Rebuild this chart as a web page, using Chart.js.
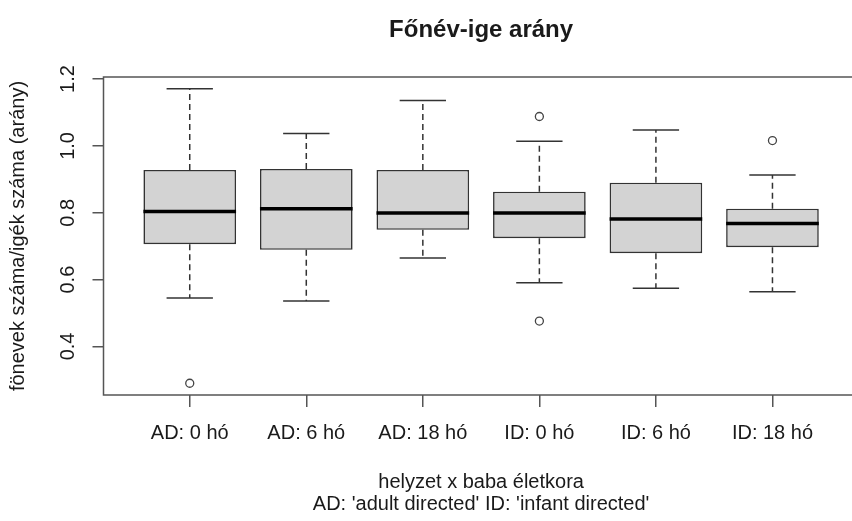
<!DOCTYPE html>
<html>
<head>
<meta charset="utf-8">
<script src="https://cdn.jsdelivr.net/npm/chart.js@4"></script>
<style>
  html, body { margin: 0; padding: 0; background: #ffffff; overflow: hidden; }
  #wrap { width: 852px; height: 521px; overflow: hidden; position: relative; }
  #c { display: block; }
</style>
</head>
<body>
<div id="wrap"><canvas id="c" width="864" height="521"></canvas></div>
<script>
// ---- data ----
const categories  = ['AD: 0 hó', 'AD: 6 hó', 'AD: 18 hó', 'ID: 0 hó', 'ID: 6 hó', 'ID: 18 hó'];
const whiskerLow  = [0.545, 0.536, 0.665, 0.591, 0.574, 0.564];
const q1          = [0.706, 0.689, 0.749, 0.724, 0.679, 0.697];
const median      = [0.804, 0.812, 0.799, 0.799, 0.781, 0.768];
const q3          = [0.928, 0.931, 0.928, 0.863, 0.890, 0.812];
const whiskerHigh = [1.171, 1.037, 1.136, 1.014, 1.048, 0.913];
const outlierGroup = [1, 4, 4, 6];
const outlierValue = [0.290, 1.088, 0.476, 1.016];
const yTicks = [0.4, 0.6, 0.8, 1.0, 1.2];
const Y_MIN = 0.2548, Y_MAX = 1.2062;
const X_MIN = 0.26, X_MAX = 6.74;

const FONT = "'Liberation Sans', Arial, Helvetica, sans-serif";
const TXT = '#1a1a1a';

const boxData = categories.map((c, i) => ({ x: i + 1, y: [q1[i], q3[i]] }));
const outData = outlierGroup.map((g, i) => ({ x: g, y: outlierValue[i] }));

const boxExtras = {
  id: 'boxExtras',
  afterDatasetsDraw(chart) {
    const { ctx, scales: { x, y }, chartArea } = chart;
    const meta = chart.getDatasetMeta(0);
    const seg = (x1, y1, x2, y2) => { ctx.beginPath(); ctx.moveTo(x1, y1); ctx.lineTo(x2, y2); ctx.stroke(); };
    ctx.save();
    meta.data.forEach((bar, i) => {
      const cx = x.getPixelForValue(i + 1);
      const half = bar.width / 2;
      const cap = half / 2;
      const yHi = y.getPixelForValue(whiskerHigh[i]);
      const yLo = y.getPixelForValue(whiskerLow[i]);
      const yQ3 = y.getPixelForValue(q3[i]);
      const yQ1 = y.getPixelForValue(q1[i]);
      const yMed = y.getPixelForValue(median[i]);
      ctx.strokeStyle = '#333';
      ctx.lineWidth = 1.5;
      ctx.setLineDash([6, 4]);
      seg(cx, yQ3, cx, yHi);
      seg(cx, yQ1, cx, yLo);
      ctx.setLineDash([]);
      seg(cx - cap, yHi, cx + cap, yHi);
      seg(cx - cap, yLo, cx + cap, yLo);
      ctx.strokeStyle = '#000';
      ctx.lineWidth = 3.5;
      seg(cx - half, yMed, cx + half, yMed);
    });
    ctx.strokeStyle = '#555';
    ctx.lineWidth = 1.5;
    ctx.strokeRect(chartArea.left, chartArea.top, chartArea.right - chartArea.left, chartArea.bottom - chartArea.top);
    ctx.restore();
  }
};

new Chart(document.getElementById('c'), {
  type: 'bar',
  data: {
    datasets: [
      {
        type: 'bar',
        data: boxData,
        backgroundColor: '#d3d3d3',
        borderColor: '#333',
        borderWidth: 1.6,
        borderSkipped: false,
        barPercentage: 0.795,
        categoryPercentage: 1.0
      },
      {
        type: 'scatter',
        data: outData,
        pointRadius: 4,
        pointBorderWidth: 1.3,
        pointBorderColor: '#444',
        pointBackgroundColor: 'rgba(0,0,0,0)',
        showLine: false
      }
    ]
  },
  options: {
    responsive: false,
    animation: false,
    events: [],
    layout: { padding: { left: 0, top: 0, right: 0.5, bottom: 0 } },
    plugins: {
      legend: { display: false },
      tooltip: { enabled: false },
      title: {
        display: true,
        text: 'Főnév-ige arány',
        fullSize: false,
        color: TXT,
        font: { family: FONT, size: 24, weight: 'bold', lineHeight: 1.2 },
        padding: { top: 15.6, bottom: 32.6 }
      }
    },
    scales: {
      x: {
        type: 'linear',
        min: X_MIN,
        max: X_MAX,
        offset: false,
        afterBuildTicks: (s) => { s.ticks = categories.map((c, i) => ({ value: i + 1 })); },
        afterFit: (s) => { s.height = 126; },
        ticks: {
          autoSkip: false,
          maxRotation: 0,
          minRotation: 0,
          padding: 14,
          color: TXT,
          font: { family: FONT, size: 20, lineHeight: 1.2 },
          callback: (v) => categories[Math.round(v) - 1]
        },
        grid: { offset: false, drawOnChartArea: false, drawTicks: true, tickLength: 12, color: '#555', lineWidth: 1.5 },
        border: { display: false },
        title: {
          display: true,
          text: ['helyzet x baba életkora', "AD: 'adult directed' ID: 'infant directed'"],
          color: TXT,
          font: { family: FONT, size: 20, lineHeight: 1.1 },
          padding: { top: 0, bottom: 6 }
        }
      },
      y: {
        type: 'linear',
        min: Y_MIN,
        max: Y_MAX,
        afterBuildTicks: (s) => { s.ticks = yTicks.map(v => ({ value: v })); },
        afterFit: (s) => { s.width = 103.5; },
        ticks: {
          autoSkip: false,
          minRotation: 90,
          maxRotation: 90,
          crossAlign: 'center',
          padding: 10.5,
          color: TXT,
          font: { family: FONT, size: 20, lineHeight: 1.2 },
          callback: (v) => Number(v).toFixed(1)
        },
        grid: { drawOnChartArea: false, drawTicks: true, tickLength: 11, color: '#555', lineWidth: 1.5 },
        border: { display: false },
        title: {
          display: true,
          text: 'fönevek száma/igék száma (arány)',
          color: TXT,
          font: { family: FONT, size: 20, lineHeight: 1.2 },
          padding: { top: 6, bottom: 0 }
        }
      }
    }
  },
  plugins: [boxExtras]
});
</script>
</body>
</html>
